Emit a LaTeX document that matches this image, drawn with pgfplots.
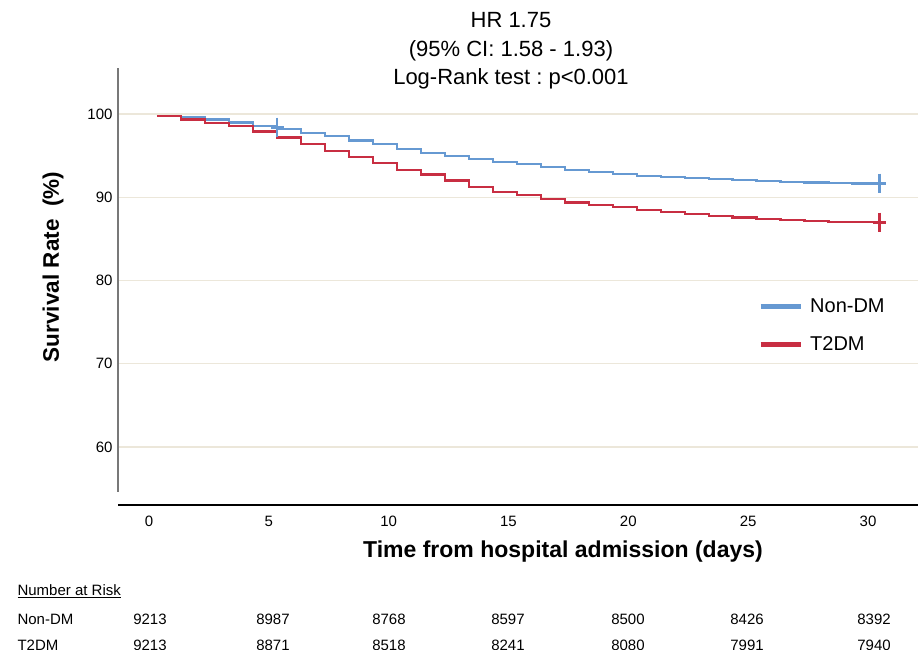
\documentclass[border=0pt]{standalone}
\usepackage{pgfplots}
\pgfplotsset{compat=1.18}
\usepackage{fontspec}
\setmainfont{Liberation Sans}
\frenchspacing
\definecolor{nondm}{RGB}{102,153,210}
\definecolor{t2dm}{RGB}{200,46,66}
\definecolor{gridc}{RGB}{236,231,218}
\definecolor{yline}{RGB}{120,120,120}

\begin{document}
\begin{tikzpicture}
\useasboundingbox (0pt,0pt) rectangle (922pt,650pt);
\begin{axis}[
    at={(118pt,145pt)}, anchor=south west,
    scale only axis, width=800pt, height=437pt,
    xmin=-1.293, xmax=32.086, ymin=53.03, ymax=105.53,
    xtick={0,5,...,30}, ytick={60,70,...,100},
    axis line style={draw=none}, major tick length=0pt,
    ymajorgrids, grid style={gridc, line width=1.2pt},
    tick label style={font=\fontsize{15}{15}\selectfont},
    /pgf/number format/assume math mode=true,
    xticklabel style={anchor=base, yshift=-22pt},
    yticklabel style={xshift=-2pt},
    clip=false,
    legend style={draw=none, fill=none, at={(rel axis cs:0.80,0.476)}, anchor=north west,
        font=\fontsize{20}{20}\selectfont, row sep=18pt, column sep=5pt, inner sep=0pt},
    legend cell align=left,
    legend image code/.code={\draw[#1, line width=5pt] (0pt,0pt) -- (40pt,0pt);},
]
% Kaplan-Meier steps, Non-DM
\addplot[const plot, nondm, line width=2.2pt] coordinates {
(0.33,99.76) (1.35,99.59) (2.35,99.35) (3.35,98.98) (4.35,98.59) (5.35,98.19)
(6.35,97.70) (7.35,97.34) (8.35,96.81) (9.35,96.41) (10.35,95.80) (11.35,95.36)
(12.35,94.99) (13.35,94.63) (14.35,94.27) (15.35,93.95) (16.35,93.63) (17.35,93.30)
(18.35,93.02) (19.35,92.78) (20.35,92.58) (21.35,92.42) (22.35,92.30) (23.35,92.18)
(24.35,92.06) (25.35,91.98) (26.35,91.86) (27.35,91.78) (28.35,91.69) (29.35,91.66)
(30.47,91.66)};
\addlegendentry{Non-DM}
% T2DM
\addplot[const plot, t2dm, line width=2.2pt] coordinates {
(0.33,99.76) (1.35,99.35) (2.35,98.95) (3.35,98.55) (4.35,97.90) (5.35,97.17)
(6.35,96.44) (7.35,95.60) (8.35,94.84) (9.35,94.11) (10.35,93.27) (11.35,92.74)
(12.35,92.02) (13.35,91.25) (14.35,90.66) (15.35,90.27) (16.35,89.78) (17.35,89.36)
(18.35,89.03) (19.35,88.79) (20.35,88.43) (21.35,88.19) (22.35,87.98) (23.35,87.74)
(24.35,87.58) (25.35,87.42) (26.35,87.26) (27.35,87.14) (28.35,87.06) (29.35,86.98)
(30.47,86.98)};
\addlegendentry{T2DM}
% censor marks
\addplot[only marks, mark=+, nondm, mark size=6.5pt, mark options={line width=2.5pt, yscale=1.5}, forget plot]
    coordinates {(5.35,98.4) (30.47,91.66)};
\addplot[only marks, mark=+, t2dm, mark size=6.5pt, mark options={line width=2.5pt, yscale=1.5}, forget plot]
    coordinates {(30.47,86.98)};
\draw[yline, line width=1.8pt] (axis cs:-1.293,54.6) -- (axis cs:-1.293,105.53);
\draw[black, line width=1.8pt] (axis cs:-1.293,53.03) -- (axis cs:32.086,53.03);
\end{axis}
\node[align=center, font=\fontsize{22}{28.5}\selectfont] at (511pt,599pt)
    {HR 1.75\\(95\% CI: 1.58 - 1.93)\\Log-Rank test : p<0.001};
\node[rotate=90, font=\bfseries\fontsize{22.5}{22.5}\selectfont] at (53pt,383pt) {Survival Rate\ \ (\%)};
\node[anchor=base, font=\bfseries\fontsize{23}{23}\selectfont] at (563pt,92pt) {Time from hospital admission (days)};
\begin{scope}[every node/.style={font=\fontsize{15}{15}\selectfont}]
\node[anchor=base west] at (14pt,54pt) {\underline{Number at Risk}};
\node[anchor=base west] at (14pt,25pt) {Non-DM};
\node[anchor=base west] at (14pt,-1pt) {T2DM};
\foreach \x/\a/\b in {150/9213/9213, 273/8987/8871, 389/8768/8518, 508/8597/8241,
                      628/8500/8080, 747/8426/7991, 874/8392/7940} {
  \node[anchor=base] at (\x pt,25pt) {\a};
  \node[anchor=base] at (\x pt,-1pt) {\b};
}
\end{scope}
\end{tikzpicture}
\end{document}
